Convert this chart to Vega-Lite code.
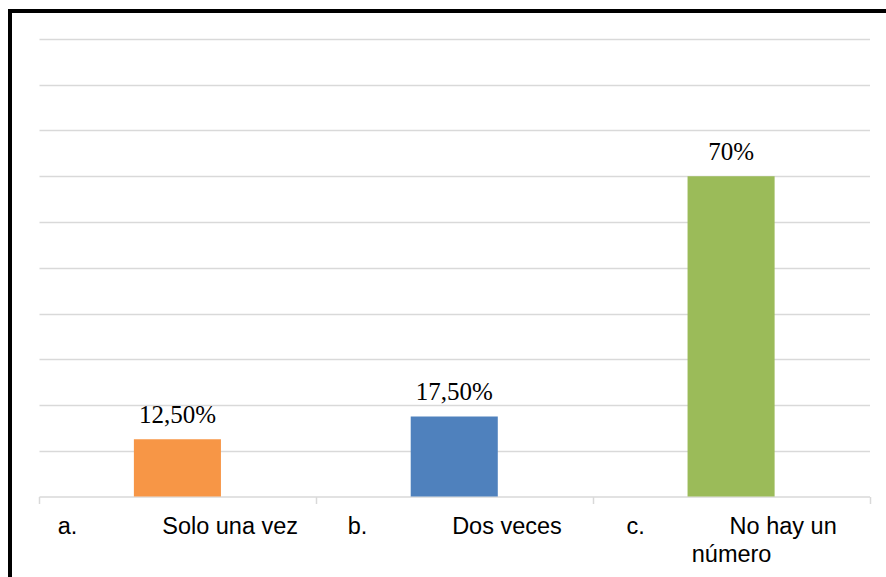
{
  "$schema": "https://vega.github.io/schema/vega-lite/v6.json",
  "width": 890,
  "height": 580,
  "autosize": {"type": "none"},
  "padding": {"left": 10, "top": 11, "right": 0, "bottom": 0},
  "background": "white",
  "config": {
    "view": {"stroke": "black", "strokeWidth": 4}
  },
  "data": {
    "values": [
      {"cat": "a.\u00a0\u00a0\u00a0\u00a0\u00a0\u00a0\u00a0\u00a0\u00a0\u00a0\u00a0\u00a0\u00a0Solo una vez", "value": 12.5, "lbl": "12,50%"},
      {"cat": "b.\u00a0\u00a0\u00a0\u00a0\u00a0\u00a0\u00a0\u00a0\u00a0\u00a0\u00a0\u00a0\u00a0Dos veces", "value": 17.5, "lbl": "17,50%"},
      {"cat": "c.\u00a0\u00a0\u00a0\u00a0\u00a0\u00a0\u00a0\u00a0\u00a0\u00a0\u00a0\u00a0\u00a0No hay un\u00a0|número\u00a0", "value": 70, "lbl": "70%"}
    ]
  },
  "encoding": {
    "x": {
      "field": "cat",
      "type": "nominal",
      "sort": null,
      "scale": {"range": [29, 859.5], "paddingInner": 0, "paddingOuter": 0},
      "axis": {
        "title": null,
        "offset": -94.5,
        "domainColor": "#d9d9d9",
        "domainWidth": 1.5,
        "tickColor": "#d9d9d9",
        "tickWidth": 1.5,
        "tickSize": 7,
        "tickBand": "extent",
        "labelAngle": 0,
        "labelFont": "Liberation Sans",
        "labelFontSize": 23.5,
        "labelColor": "black",
        "labelBaseline": "alphabetic",
        "labelPadding": 30,
        "labelLineHeight": 28,
        "labelLimit": 0,
        "labelOverlap": false,
        "labelExpr": "split(datum.label, '|')",
        "grid": false
      }
    },
    "y": {
      "field": "value",
      "type": "quantitative",
      "scale": {"domain": [0, 100], "range": [485.5, 28], "nice": false},
      "axis": {
        "title": null,
        "values": [10, 20, 30, 40, 50, 60, 70, 80, 90, 100],
        "domain": false,
        "ticks": false,
        "labels": false,
        "grid": true,
        "gridColor": "#d9d9d9",
        "gridWidth": 1.5
      }
    }
  },
  "layer": [
    {
      "mark": {"type": "bar", "width": {"band": 0.3145}},
      "encoding": {
        "color": {
          "field": "cat",
          "type": "nominal",
          "scale": {"range": ["#F79646", "#4F81BD", "#9BBB59"]},
          "legend": null
        }
      }
    },
    {
      "mark": {
        "type": "text",
        "dy": -16,
        "baseline": "alphabetic",
        "font": "Liberation Serif",
        "fontSize": 25,
        "color": "black"
      },
      "encoding": {
        "text": {"field": "lbl"}
      }
    }
  ]
}
